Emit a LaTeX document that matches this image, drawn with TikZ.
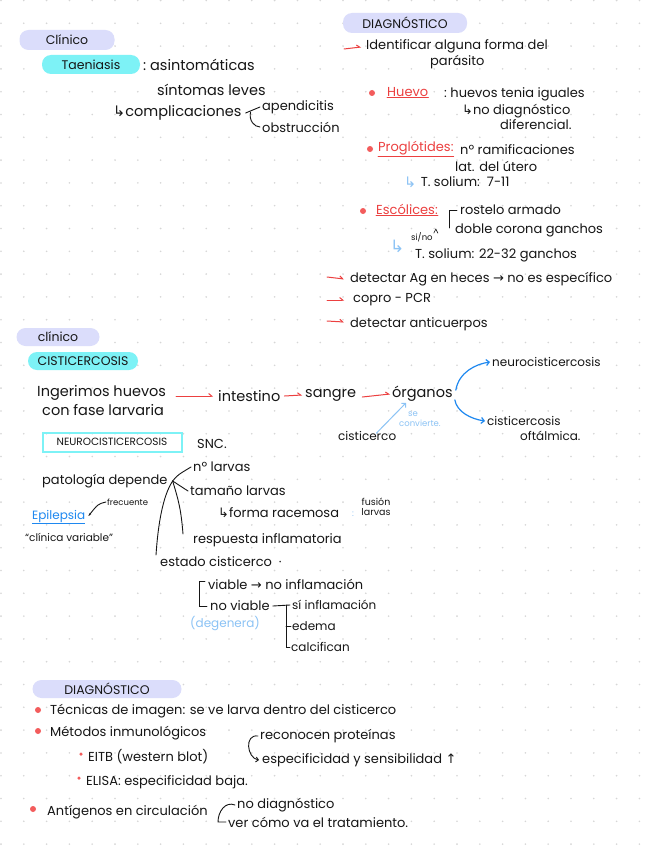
\documentclass[tikz,border=0pt]{standalone}
\usepackage{fontspec}
\setmainfont{Poppins}
\newfontfamily\arrfont{DejaVu Sans}
\usetikzlibrary{positioning, calc, arrows.meta}

\definecolor{lav}{RGB}{219,221,251}
\definecolor{cyanp}{RGB}{125,242,246}
\definecolor{redink}{RGB}{236,64,64}
\definecolor{reddot}{RGB}{243,92,92}
\definecolor{blueink}{RGB}{30,136,240}
\definecolor{lblue}{RGB}{140,195,245}
\definecolor{inkc}{RGB}{22,22,22}
\definecolor{dotc}{RGB}{214,214,214}

\newcommand{\hookar}{{\arrfont ↳}}
\newcommand{\rarrow}{{\arrfont →}}
\newcommand{\uparr}{{\arrfont ↑}}

\begin{document}
\begin{tikzpicture}[x=1pt, y=-1pt,
    txt/.style={anchor=west, inner sep=0pt, text=inkc, font=\fontsize{13}{15}\selectfont},
    txts/.style={txt, font=\fontsize{12}{14}\selectfont},
    txtl/.style={txt, font=\fontsize{14.5}{16}\selectfont},
    txtxl/.style={txt, font=\fontsize{14.5}{16}\selectfont},
    mini/.style={txt, font=\fontsize{8.5}{9.5}\selectfont},
    pillv/.style={fill=lav, rounded corners=9pt, inner sep=0pt, text=inkc, font=\fontsize{12.5}{14}\selectfont},
    pillc/.style={pillv, fill=cyanp},
    rdot/.style={circle, fill=reddot, inner sep=0pt, minimum size=6pt},
    ink/.style={draw=inkc, line width=0.9pt, line cap=round},
    rline/.style={draw=redink, line width=0.9pt, line cap=round},
    rarr/.style={rline, line width=1pt, -{Straight Barb[harpoon, length=3pt, width=5pt]}},
    barr/.style={draw=blueink, line width=1.2pt, line cap=round, -{Straight Barb[length=3pt, width=6pt]}},
    lbarr/.style={draw=lblue, line width=1pt, line cap=round, -{Straight Barb[length=3pt, width=6pt]}}
  ]
  \useasboundingbox (0,0) rectangle (656,848);
  % fondo punteado
  \fill[white] (0,0) rectangle (656,848);
  \foreach \i in {0,...,28}
    \foreach \j in {0,...,37}
      \fill[dotc] (\i*22.8+1, \j*22.8+0.5) circle (0.9);

  % Clinico - teniasis
  \node[pillv, minimum width=95pt, minimum height=20pt] (clin1) at (67,40) {Clínico};
  \node[pillc, minimum width=98pt, minimum height=19pt] (taen) at (91,64.5) {Taeniasis};
  \node[txtxl] (asint) at (143,65) {:\ asintomáticas};
  \node[txtxl] (sint) at (157,90) {síntomas leves};
  \node[txtxl] (compl) at (113,113) {\hookar complicaciones};
  \node[txt] (apend) at (262,107) {apendicitis};
  \node[txt] (obst) at (262,127) {obstrucción};
  \draw[ink] ([xshift=4pt]compl.east) -- ([xshift=-2pt]apend.west);
  \draw[ink] ([xshift=9pt,yshift=1pt]compl.east) .. controls +(-2,8) and +(-6,0) .. ([xshift=-2pt]obst.west);

  % Diagnostico - teniasis
  \node[pillv, minimum width=124pt, minimum height=20pt] (diag1) at (405,23) {DIAGNÓSTICO};
  \coordinate (a1) at (344,49);
  \node[txt] (iden) at (366,46) {Identificar alguna forma del};
  \node[txt] (iden2) at (430,62) {parásito};
  \draw[rarr] (a1) -- ([xshift=-5pt,yshift=-1pt]iden.west);

  \node[rdot] (d1) at (372,93) {};
  \node[txt, text=redink] (huevo) at (387,92) {Huevo};
  \node[txt] (huevos) at (444,94) {:\ huevos tenia iguales};
  \node[txt] (nodif) at (462,111) {\hookar no diagnóstico};
  \node[txt] (dif) at (500,125) {diferencial.};
  \draw[rline] ([yshift=-1pt]huevo.south west) -- ([yshift=-1pt]huevo.south east);

  \node[rdot] (d2) at (370,149) {};
  \node[txt, text=redink] (prog) at (378,148) {Proglótides:};
  \node[txt] (ram) at (460,150) {nº ramificaciones};
  \node[txt] (lat) at (455,166) {lat. del útero};
  \node[txtl, text=lblue] (hk1) at (404,182) {\hookar};
  \node[txt] (sol1) [right=4pt of hk1] {T. solium:\ \ 7-11};
  \draw[rline] ([yshift=-1pt]prog.south west) -- ([yshift=-1pt]prog.south east);

  \node[rdot] (d3) at (363,211) {};
  \node[txt, text=redink] (esc) at (376,209) {Escólices:};
  \node[txt] (rost) at (460,210) {rostelo armado};
  \node[txt] (dob) at (455,230) {doble corona ganchos};
  \node[mini] (sino) at (411,237) {si/no};
  \node[txtl, text=lblue, font=\fontsize{17}{18}\selectfont] (hk2) at (390,246) {\hookar};
  \node[txt] (sol2) at (415,255) {T. solium: 22-32 ganchos};
  \draw[rline] ([yshift=-1pt]esc.south west) -- ([yshift=-1pt]esc.south east);
  \draw[ink] ([xshift=-3pt]rost.west) -- ++(-8,0) -- ++(0,18);
  \draw[ink, line width=0.6pt] ([xshift=1pt,yshift=-1pt]sino.north east) -- ++(2,-4) -- ++(2,4);

  \coordinate (a2) at (327,277);
  \node[txt] (detag) at (350,279) {detectar Ag en heces \rarrow\ no es específico};
  \draw[rarr] (a2) -- ([xshift=-6pt]detag.west);
  \coordinate (a3) at (327,300);
  \node[txt] (copro) at (353,300) {copro - PCR};
  \draw[rarr] (a3) -- ([xshift=-9pt]copro.west);
  \coordinate (a4) at (327,321);
  \node[txt] (anti) at (350,324) {detectar anticuerpos};
  \draw[rarr] (a4) -- ([xshift=-6pt,yshift=2pt]anti.west);

  % Clinico - cisticercosis
  \node[pillv, minimum width=83pt, minimum height=18pt] (clin2) at (58,337) {clínico};
  \node[pillc, minimum width=110pt, minimum height=18pt] (cist) at (83,361) {CISTICERCOSIS};
  \node[txtl] (ing) at (37,393) {Ingerimos huevos};
  \node[txtl] (ing2) at (42,410) {con fase larvaria};
  \node[txtl] (intes) at (218,396) {intestino};
  \node[txtl] (sang) at (305,395) {sangre};
  \node[txtl] (org) at (392,394) {órganos};
  \draw[rarr] ([xshift=10pt,yshift=-3pt]ing.east) -- ([xshift=-5pt]intes.west);
  \draw[rarr] ([xshift=4pt]intes.east) -- ([xshift=-3pt]sang.west);
  \draw[rarr] ([xshift=6pt,yshift=-2pt]sang.east) -- ([xshift=-2pt]org.west);

  \node[txts] (neuro) at (492,362) {neurocisticercosis};
  \node[txts] (cisof) at (487,421) {cisticercosis};
  \node[txts] (oft) at (520,436) {oftálmica.};
  \draw[barr] ([xshift=3pt,yshift=-4pt]org.north east) .. controls +(3,-18) and +(-14,2) .. ([xshift=-2pt]neuro.west);
  \draw[barr] ([xshift=2pt,yshift=2pt]org.south east) .. controls +(2,12) and +(-14,-2) .. ([xshift=-2pt]cisof.west);

  \node[txts] (cisco) at (338,436) {cisticerco};
  \draw[lbarr] ([xshift=-20pt,yshift=-2pt]cisco.north east) -- ([xshift=14pt,yshift=-1pt]org.south west);
  \node[mini, text=lblue, align=left] (conv) at (399,419) {\hspace*{9pt}se\\convierte.};

  % Neurocisticercosis
  \node[draw=cyanp, line width=2pt, minimum width=139pt, minimum height=19pt, inner sep=0pt,
        text=inkc, font=\fontsize{10.5}{12}\selectfont] (neub) at (112,442) {NEUROCISTICERCOSIS};
  \node[txt] (snc) at (197,444) {SNC.};

  \node[txt] (pat) at (42,481) {patología depende};
  \coordinate (hub) at ($(pat.east)+(5,0)$);
  \node[txt] (nlar) at (193,467) {nº larvas};
  \node[txt] (tam) at (190,491) {tamaño larvas};
  \node[txt] (rac) at (218,513) {\hookar forma racemosa};
  \node[mini, text=lblue] (rcol) at (352,514) {:};
  \node[anchor=center, inner sep=0pt, align=center, text=inkc, font=\fontsize{9.5}{9.5}\selectfont] (fus) at (376,507) {fusión\\larvas};
  \node[txt] (resp) at (193,540) {respuesta inflamatoria};
  \node[txt] (est) at (160,562) {estado cisticerco\ \ ·};
  \node[txt] (viab) at (208,584) {viable \rarrow\ no inflamación};
  \node[txt] (nov) at (210,606) {no viable};
  \node[txts] (sinf) at (292,605) {sí inflamación};
  \node[txts] (edem) at (292,626) {edema};
  \node[txts] (calc) at (291,647) {calcifican};
  \node[txts, text=lblue] (deg) at (190,624) {(degenera)};

  \draw[ink] (hub) .. controls +(5,-6) .. ([xshift=-2pt]nlar.west);
  \draw[ink] (hub) -- ([xshift=-2pt]tam.west);
  \draw[ink] (hub) .. controls +(6,20) and +(-2,-25) .. ([xshift=-10pt,yshift=6pt]resp.west);
  \draw[ink] (hub) .. controls +(-10,15) and +(2,-30) .. ([xshift=-4pt,yshift=7pt]est.west);
  \draw[ink] ([xshift=-3pt,yshift=3pt]viab.west) -- ++(-6,0) -- ([xshift=-11pt]nov.west) -- ([xshift=-3pt]nov.west);
  \draw[ink] ([xshift=3pt]nov.east) -- ([xshift=-2pt]sinf.west);
  \draw[ink] ([xshift=-6pt]sinf.west) -- ([xshift=-5pt]calc.west) -- ([xshift=-1pt]calc.west);
  \draw[ink] ([xshift=-6pt]edem.west) -- ([xshift=-1pt]edem.west);

  \node[txts, text=blueink] (epi) at (32,516) {Epilepsia};
  \draw[draw=blueink, line width=0.9pt] ([yshift=-1pt]epi.south west) -- ([yshift=-1pt]epi.south east);
  \node[mini] (frec) at (107,502) {frecuente};
  \draw[ink, -{Stealth[length=3pt]}] ([xshift=-1pt]frec.west) .. controls +(-8,2) .. ([xshift=3pt]epi.east);
  \node[txt, font=\fontsize{10.5}{12}\selectfont] (clinv) at (25,537) {“clínica variable”};

  % Diagnostico - cisticercosis
  \node[pillv, minimum width=149pt, minimum height=18pt] (diag2) at (107,689) {DIAGNÓSTICO};
  \node[rdot] (b1) at (38,710) {};
  \node[txt] (tec) at (50,711) {Técnicas de imagen: se ve larva dentro del cisticerco};
  \node[rdot] (b2) at (38,731) {};
  \node[txt] (met) at (50,733) {Métodos inmunológicos};
  \node[rdot, minimum size=3.5pt] (b3) at (81,754) {};
  \node[txt] (eitb) at (88,757) {EITB (western blot)};
  \node[txt] (recon) at (260,736) {reconocen proteínas};
  \node[txt] (espec) at (262,760) {especificidad y sensibilidad \uparr};
  \draw[ink, -{Straight Barb[length=2.5pt, width=5pt]}] ([xshift=-2pt]recon.west) .. controls +(-14,-2) and +(-12,-2) .. ([xshift=-3pt]espec.west);
  \node[rdot, minimum size=3.5pt] (b4) at (79,778) {};
  \node[txt] (elisa) at (86,782) {ELISA: especificidad baja.};
  \node[rdot] (b5) at (33,809) {};
  \node[txt] (antig) at (47,812) {Antígenos en circulación};
  \node[txt] (nodg) at (237,805) {no diagnóstico};
  \node[txt] (ver) at (228,822) {ver cómo va el tratamiento.};
  \draw[ink] ([xshift=-2pt]nodg.west) .. controls +(-10,-4) and +(0,-10) .. ([xshift=-10pt]ver.west) -- ([xshift=-2pt]ver.west);
\end{tikzpicture}
\end{document}
